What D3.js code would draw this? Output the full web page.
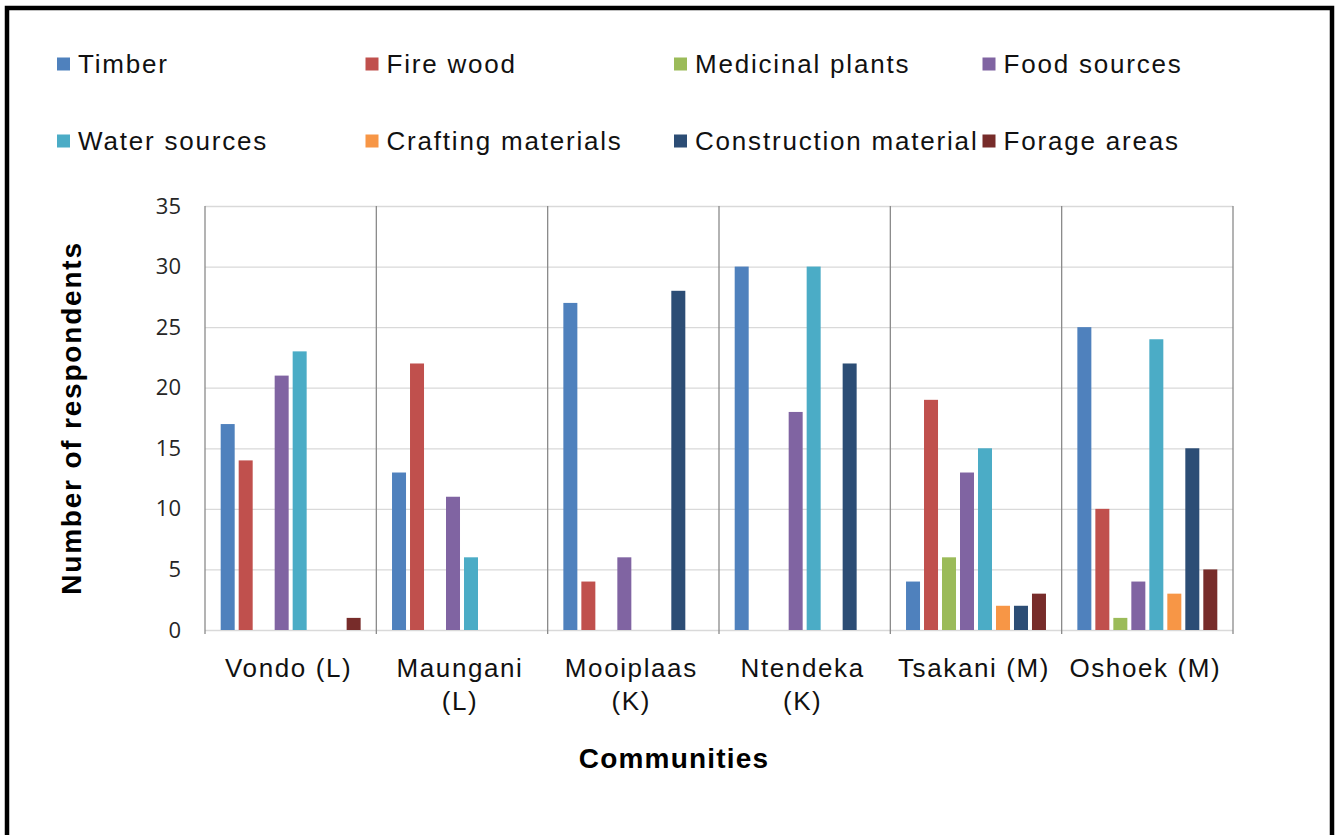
<!DOCTYPE html>
<html>
<head>
<meta charset="utf-8">
<script src="https://cdn.jsdelivr.net/npm/d3@7"></script>
<style>
  html, body { margin: 0; padding: 0; background: #fff; }
  svg { display: block; }
</style>
</head>
<body>
<svg id="chart" width="1339" height="835"></svg>
<script>
// Communities surveyed and the resources respondents named
const communities = ["Vondo (L)", "Maungani (L)", "Mooiplaas (K)", "Ntendeka (K)", "Tsakani (M)", "Oshoek (M)"];
const resources = ["Timber", "Fire wood", "Medicinal plants", "Food sources",
                   "Water sources", "Crafting materials", "Construction material", "Forage areas"];

// Number of respondents per resource, one value per community
const timber       = [17, 13, 27, 30,  4, 25];
const fireWood     = [14, 22,  4,  0, 19, 10];
const medicinal    = [ 0,  0,  0,  0,  6,  1];
const foodSources  = [21, 11,  6, 18, 13,  4];
const waterSources = [23,  6,  0, 30, 15, 24];
const crafting     = [ 0,  0,  0,  0,  2,  3];
const construction = [ 0,  0, 28, 22,  2, 15];
const forage       = [ 1,  0,  0,  0,  3,  5];

const yTicks = [0, 5, 10, 15, 20, 25, 30, 35];
const colors = ["#4F81BD", "#C0504D", "#9BBB59", "#8064A2", "#4BACC6", "#F79646", "#2C4D75", "#772C2A"];

const seriesValues = [timber, fireWood, medicinal, foodSources, waterSources, crafting, construction, forage];
const rows = communities.map((c, i) => ({
  community: c,
  values: resources.map((r, j) => ({ resource: r, value: seriesValues[j][i] }))
}));

const svg = d3.select("#chart");
const W = 1339, H = 835;
const plot = { left: 205, right: 1233, top: 206, bottom: 630 };
const sansFont = "'Liberation Sans', Arial, sans-serif";

svg.append("rect").attr("width", W).attr("height", H).attr("fill", "#fff");

// Outer frame (top, left and right edges)
svg.append("path")
  .attr("d", `M7,${H} L7,8 L1332,8 L1332,${H}`)
  .attr("fill", "none").attr("stroke", "#000").attr("stroke-width", 4.5);

const x0 = d3.scaleBand().domain(communities).range([plot.left, plot.right]).padding(0);
const x1 = d3.scaleBand().domain(resources).range([0, x0.bandwidth()])
  .paddingInner(0.222).paddingOuter(0.872);
const y = d3.scaleLinear().domain([0, 35]).range([plot.bottom, plot.top]);

// Horizontal gridlines
svg.append("g").selectAll("line").data(yTicks).join("line")
  .attr("x1", plot.left).attr("x2", plot.right)
  .attr("y1", d => y(d) + 0.5).attr("y2", d => y(d) + 0.5)
  .attr("stroke", "#d9d9d9").attr("stroke-width", 1.3);

// Vertical separators between communities, plus the plot edges
const sepX = communities.map(c => x0(c)).concat([plot.right]);
svg.append("g").selectAll("line").data(sepX).join("line")
  .attr("x1", d => d).attr("x2", d => d)
  .attr("y1", plot.top).attr("y2", plot.bottom + 4)
  .attr("stroke", "#8a8a8a").attr("stroke-width", 1.3);

// Y-axis tick labels
const yAxis = d3.axisLeft(y).tickValues(yTicks).tickSize(0).tickPadding(24);
const yg = svg.append("g").attr("transform", `translate(${plot.left},0)`).call(yAxis);
yg.select(".domain").remove();
yg.selectAll("text")
  .attr("font-family", "'Open Sans', sans-serif")
  .attr("font-size", 22)
  .attr("fill", "#262626");

// Bars
const groups = svg.append("g").selectAll("g").data(rows).join("g")
  .attr("transform", d => `translate(${x0(d.community)},0)`);
groups.selectAll("rect").data(d => d.values.filter(v => v.value > 0)).join("rect")
  .attr("x", d => x1(d.resource))
  .attr("width", x1.bandwidth())
  .attr("y", d => y(d.value))
  .attr("height", d => y(0) - y(d.value))
  .attr("fill", d => colors[resources.indexOf(d.resource)]);

// Category labels, wrapped onto two lines when too wide
const labelG = svg.append("g");
communities.forEach(c => {
  const cx = x0(c) + x0.bandwidth() / 2 - 2;
  const t = labelG.append("text")
    .attr("x", cx).attr("y", 677)
    .attr("text-anchor", "middle")
    .attr("font-family", sansFont).attr("font-size", 26)
    .attr("letter-spacing", 1.6).attr("fill", "#111")
    .text(c);
  if (t.node().getComputedTextLength() > 165) {
    const cut = c.lastIndexOf(" ");
    t.text(null);
    t.append("tspan").attr("x", cx).attr("y", 677).text(c.slice(0, cut));
    t.append("tspan").attr("x", cx).attr("y", 710).text(c.slice(cut + 1));
  }
});

// Axis titles
svg.append("text")
  .attr("x", 674).attr("y", 768)
  .attr("text-anchor", "middle")
  .attr("font-family", sansFont).attr("font-weight", "bold")
  .attr("font-size", 28).attr("letter-spacing", 1.2)
  .attr("fill", "#000")
  .text("Communities");

svg.append("text")
  .attr("transform", "translate(81,418) rotate(-90)")
  .attr("text-anchor", "middle")
  .attr("font-family", sansFont).attr("font-weight", "bold")
  .attr("font-size", 28).attr("letter-spacing", 1.8)
  .attr("fill", "#000")
  .text("Number of respondents");

// Legend: two rows of four entries
const legend = svg.append("g").selectAll("g").data(resources).join("g")
  .attr("transform", (d, i) => `translate(${57 + (i % 4) * 308.5},${i < 4 ? 64 : 141})`);
legend.append("rect")
  .attr("x", 0).attr("y", -6.5).attr("width", 13).attr("height", 13)
  .attr("fill", (d, i) => colors[i]);
legend.append("text")
  .attr("x", 21).attr("y", 9)
  .attr("font-family", sansFont).attr("font-size", 26)
  .attr("letter-spacing", 1.8).attr("fill", "#111")
  .text(d => d);
</script>
</body>
</html>
